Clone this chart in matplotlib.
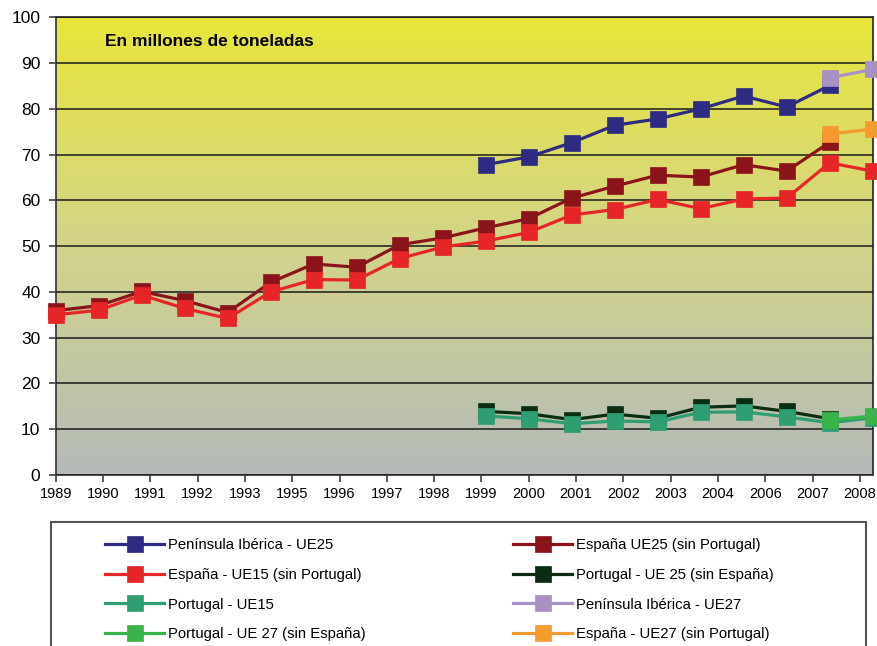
import numpy as np
import matplotlib
matplotlib.use("Agg")
import matplotlib.pyplot as plt
from matplotlib.colors import LinearSegmentedColormap
from matplotlib.patches import Rectangle

plt.rcParams['font.family'] = ['Liberation Sans', 'DejaVu Sans']

nan = np.nan
# 20 data points (1989-2008), positions along the category axis
years = list(range(1989, 2009))
tick_labels = ["1989", "1990", "1991", "1992", "1993", "1995", "1996", "1997", "1998",
               "1999", "2000", "2001", "2002", "2003", "2004", "2006", "2007", "2008"]

peninsula_ue25 = [nan]*10 + [67.8, 69.5, 72.6, 76.4, 77.8, 80.0, 82.8, 80.4, 85.1, nan]
espana_ue25 = [35.9, 37.0, 40.1, 38.1, 35.5, 42.1, 46.1, 45.4, 50.3, 51.8,
               54.0, 56.0, 60.5, 63.1, 65.5, 65.1, 67.8, 66.4, 72.7, nan]
espana_ue15 = [35.0, 36.0, 39.3, 36.4, 34.2, 40.0, 42.7, 42.6, 47.3, 49.8,
               51.1, 53.0, 56.8, 58.0, 60.2, 58.2, 60.3, 60.5, 68.2, 66.4]
portugal_ue25 = [nan]*10 + [13.9, 13.4, 12.1, 13.3, 12.4, 14.8, 15.1, 13.9, 12.3, nan]
portugal_ue15 = [nan]*10 + [12.9, 12.3, 11.2, 11.8, 11.6, 13.7, 13.8, 12.7, 11.4, 12.5]
peninsula_ue27 = [nan]*18 + [86.8, 88.6]
portugal_ue27 = [nan]*18 + [12.0, 12.9]
espana_ue27 = [nan]*18 + [74.5, 75.6]

series = [
    ("Península Ibérica - UE25", peninsula_ue25, "#2E2C82"),
    ("España UE25 (sin Portugal)", espana_ue25, "#8B141B"),
    ("España - UE15 (sin Portugal)", espana_ue15, "#E52527"),
    ("Portugal - UE 25 (sin España)", portugal_ue25, "#0B2E12"),
    ("Portugal - UE15", portugal_ue15, "#2F9E72"),
    ("Península Ibérica - UE27", peninsula_ue27, "#A891C4"),
    ("Portugal - UE 27 (sin España)", portugal_ue27, "#3AB44A"),
    ("España - UE27 (sin Portugal)", espana_ue27, "#F59A2E"),
]

W, H = 877, 646
fig = plt.figure(figsize=(W/100, H/100), dpi=100)
ax = fig.add_axes([55.7/W, 1-475/H, (872.7-55.7)/W, (475-17.3)/H])

x = np.arange(len(years))
ax.set_xlim(0, len(years)-1)
ax.set_ylim(0, 100)

# gradient background
cmap = LinearSegmentedColormap.from_list("bg", [(0, "#B4BBB9"), (0.5, "#D3D48A"), (1.0, "#E8E63A")])
grad = np.linspace(0, 1, 256).reshape(-1, 1)
ax.imshow(grad, aspect='auto', cmap=cmap, origin='lower',
          extent=[0, len(years)-1, 0, 100], zorder=0)

ax.set_yticks(np.arange(0, 101, 10))
ax.yaxis.grid(True, color="#1a1a1a", linewidth=1.1, zorder=1)
ax.set_axisbelow(False)
for gl in ax.get_ygridlines():
    gl.set_zorder(1)

# the label axis is slightly compressed relative to the data axis (as in the original)
tick_pos = np.arange(len(tick_labels)) * 1.1
ax.set_xticks(tick_pos)
ax.set_xticklabels(tick_labels, fontsize=10.5)
ax.tick_params(axis='y', labelsize=12.5, length=5, width=1.2, color="#404040", direction='out', pad=6)
ax.tick_params(axis='x', length=5, width=1.2, color="#404040", direction='out', pad=4)

for s in ax.spines.values():
    s.set_color("#333333")
    s.set_linewidth(1.3)
ax.spines['left'].set_color("#404040")
ax.spines['bottom'].set_color("#404040")

handles = []
order_z = {0: 3, 1: 3, 2: 4, 3: 3, 4: 4, 5: 5, 6: 5, 7: 5}
for i, (lab, vals, col) in enumerate(series):
    h, = ax.plot(x, vals, color=col, linewidth=2.3, marker='s', markersize=11.5,
                 markeredgecolor=col, markeredgewidth=0.5, label=lab, zorder=order_z[i],
                 clip_on=False)
    handles.append(h)

fig.text(105/W, 1-41/H, "En millones de toneladas", fontsize=12.5,
         fontweight='bold', va='center', ha='left')

# legend frame (bottom cut off)
fig.patches.append(Rectangle((51/W, -0.05), (866-51)/W, (1-522/H)+0.05, transform=fig.transFigure,
                             facecolor='white', edgecolor='#555555', linewidth=1.5, zorder=0))

leg_kw = dict(frameon=False, fontsize=10.7, handlelength=4.0, handletextpad=0.25,
              labelspacing=1.06, borderaxespad=0, borderpad=0, loc='upper left')
l1 = fig.legend([handles[0], handles[2], handles[4], handles[6]],
                [series[0][0], series[2][0], series[4][0], series[6][0]],
                bbox_to_anchor=(105/W, 1-538/H), **leg_kw)
l2 = fig.legend([handles[1], handles[3], handles[5], handles[7]],
                [series[1][0], series[3][0], series[5][0], series[7][0]],
                bbox_to_anchor=(513/W, 1-538/H), **leg_kw)

fig.savefig("out.png", dpi=100)
